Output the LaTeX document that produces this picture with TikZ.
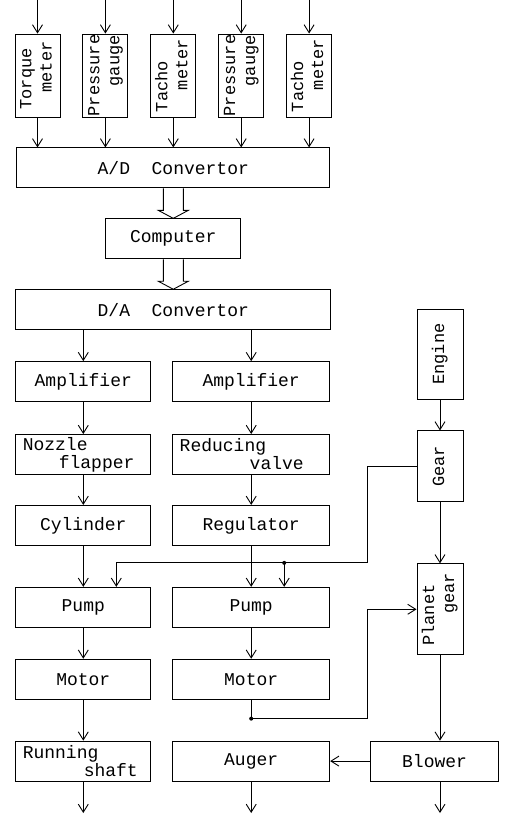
\documentclass[tikz,border=0pt]{standalone}
\usepackage{fontspec}
\usepackage{graphicx}
\usetikzlibrary{positioning,arrows.meta,calc}
\newfontfamily\dgfont{Liberation Mono}
\newcommand{\vtxt}[1]{\rotatebox{90}{\fontsize{17}{20}\selectfont\begin{tabular}{@{}l@{}}#1\end{tabular}}}

\begin{document}
\begin{tikzpicture}[x=1pt,y=-1pt,line width=0.9pt, every node/.style={font=\dgfont\fontsize{18}{18}\selectfont},
  bx/.style={draw,inner sep=0pt,minimum height=40pt,minimum width=#1}, bx/.default=135pt,
  tb/.style={draw,inner xsep=7pt,inner ysep=0pt,minimum height=40pt,text width=#1,align=left},
  vb/.style={draw,inner sep=0pt,minimum width=45pt,minimum height=#1},
  >={Straight Barb[length=8pt,width=10pt]}]
  \useasboundingbox (0,0) rectangle (505,815);
  \coordinate (top) at (0,0); \coordinate (bot) at (0,813);
  \node[vb=83pt] (s1) at (37.5,75.5) {\vtxt{Torque\\\hspace*{17pt}meter}};
  \node[vb=83pt,right=22pt of s1] (s2) {\vtxt{Pressure\\\hspace*{30pt}gauge}};
  \node[vb=83pt,right=22pt of s2] (s3) {\vtxt{Tacho\\\hspace*{22pt}meter}};
  \node[vb=83pt,right=22pt of s3] (s4) {\vtxt{Pressure\\\hspace*{30pt}gauge}};
  \node[vb=83pt,right=22pt of s4] (s5) {\vtxt{Tacho\\\hspace*{22pt}meter}};
  \node[bx=313pt,below=30pt of s3] (ad) {A/D~~Convertor};
  \node[bx,below=30pt of ad] (cp) {Computer};
  \node[bx=315pt,below=30pt of cp] (da) {D/A~~Convertor};
  \node[bx,below=31pt of da.south west,anchor=north west] (am1) {Amplifier};
  \node[bx=157pt,right=21pt of am1] (am2) {Amplifier};
  \node[tb=121pt,below=32pt of am1] (nz) {Nozzle\\\hspace*{36pt}flapper};
  \node[tb=143pt,below=32pt of am2] (rv) {Reducing\\\hspace*{70pt}valve};
  \node[bx,below=30pt of nz] (cy) {Cylinder};
  \node[bx=157pt,below=30pt of rv] (rg) {Regulator};
  \node[bx,below=41pt of cy] (pm1) {Pump};
  \node[bx=157pt,below=41pt of rg] (pm2) {Pump};
  \node[bx,below=31pt of pm1] (mt1) {Motor};
  \node[bx=157pt,below=31pt of pm2] (mt2) {Motor};
  \node[tb=121pt,below=41pt of mt1] (rs) {Running\\\hspace*{61pt}shaft};
  \node[bx=157pt,below=41pt of mt2] (au) {Auger};
  \node[bx=128pt,right=40pt of au] (bl) {Blower};
  \node[vb=90pt,minimum width=46pt] (en) at (440,354) {\vtxt{Engine}};
  \node[vb=71pt,minimum width=46pt,below=31pt of en] (gr) {\vtxt{Gear}};
  \node[vb=91pt,minimum width=46pt,below=61pt of gr] (pg) {\vtxt{Planet\\\hspace*{32pt}gear}};
  \foreach \s in {s1,s2,s3,s4,s5} {\draw[->] (\s.north |- top)--(\s.north); \draw[->] (\s.south)--(\s.south |- ad.north);}
  \foreach \a/\b in {ad/cp,cp/da}
    \draw ($(\a.south)+(-10,0)$) -- ($(\b.north)+(-10,-8)$) -- ++(-5,0) -- (\b.north) -- ($(\b.north)+(15,-8)$) -- ++(-5,0) -- ($(\a.south)+(10,0)$);
  \draw[->] (am1.north |- da.south)--(am1.north); \draw[->] (am2.north |- da.south)--(am2.north);
  \draw[->] (am1)--(nz); \draw[->] (nz)--(cy); \draw[->] (cy)--(pm1); \draw[->] (pm1)--(mt1); \draw[->] (mt1)--(rs);
  \draw[->] (am2)--(rv); \draw[->] (rv)--(rg); \draw[->] (rg)--(pm2); \draw[->] (pm2)--(mt2);
  \draw[->] (en)--(gr); \draw[->] (gr)--(pg); \draw[->] (pg.south)--(pg.south |- bl.north); \draw[->] (bl)--(au);
  \coordinate (bus) at ($(gr.west)+(-49,0)$);
  \coordinate (tp1) at ($(pm1.north)+(33,-24)$);
  \coordinate (tp2) at ($(pm2.north)+(33,-24)$);
  \draw[->] (gr.west)--(bus) |- (tp1)--(tp1 |- pm1.north);
  \draw[->] (tp2)--(tp2 |- pm2.north); \fill (tp2) circle (2pt);
  \draw[->] (mt2.south)--++(0,19) coordinate (md) -| (bus |- pg.west)--(pg.west); \fill (md) circle (2pt);
  \draw[->] (rs.south)--(rs.south |- bot); \draw[->] (au.south)--(au.south |- bot); \draw[->] (pg.south |- bl.south)--(pg.south |- bot);
\end{tikzpicture}
\end{document}
